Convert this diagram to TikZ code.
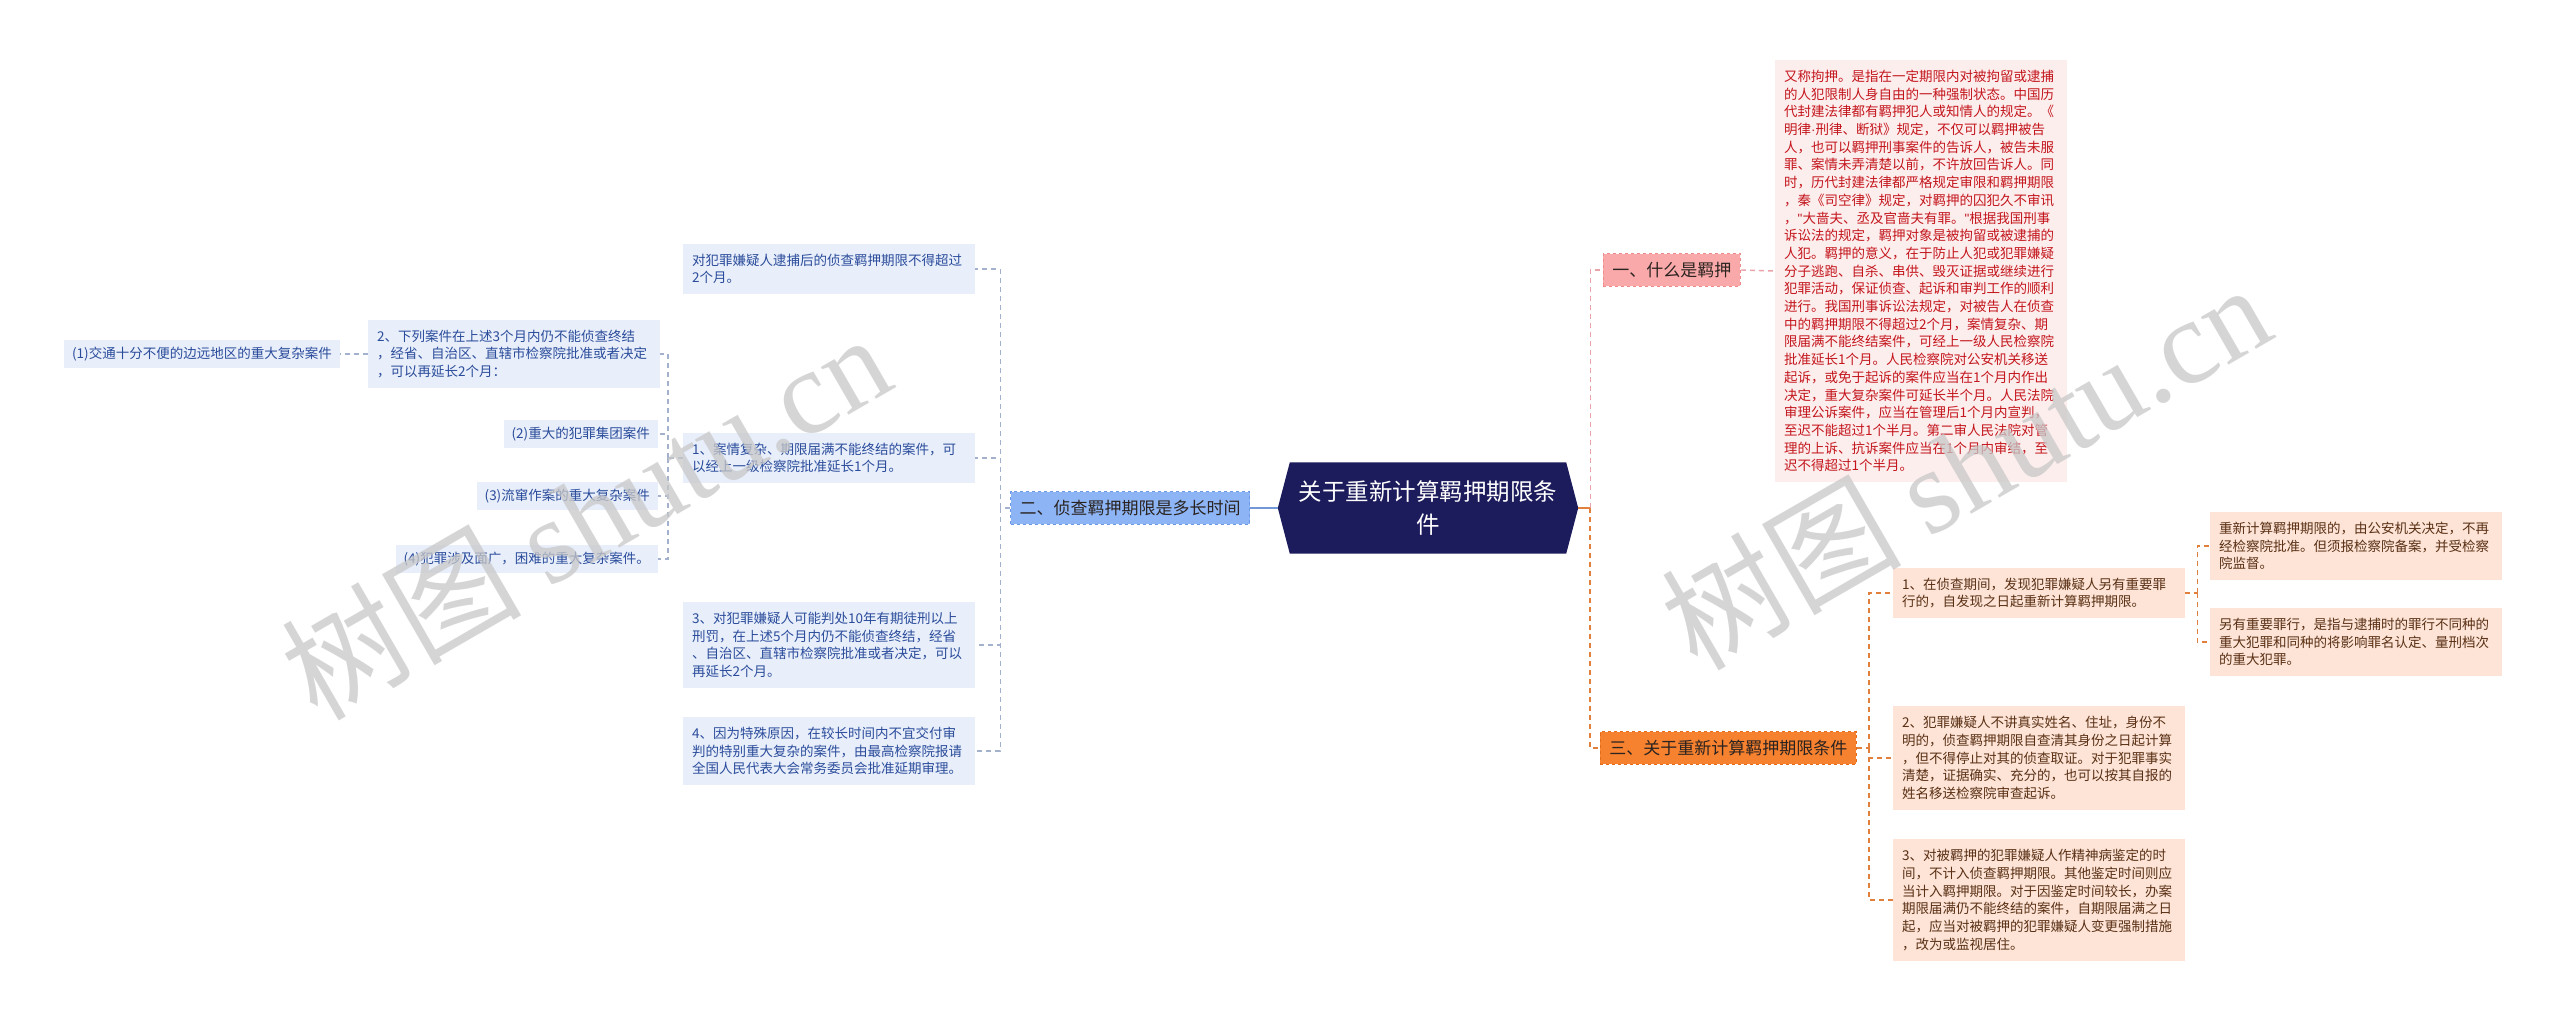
\documentclass[tikz,border=0pt]{standalone}
\usepackage{fontspec}
\setmainfont{Noto Sans CJK SC}
\newfontfamily\wmfont{Liberation Serif}
\newfontfamily\latinsans{Liberation Sans}
\usetikzlibrary{backgrounds}
\definecolor{rootfill}{HTML}{1C1B5C}
\definecolor{bmain}{HTML}{8DB5F6}
\definecolor{bmainborder}{HTML}{6A97E6}
\definecolor{bleaffill}{HTML}{E8EFFB}
\definecolor{bleaftext}{HTML}{2B4C9B}
\definecolor{bline}{HTML}{A3B1CC}
\definecolor{bsolid}{HTML}{7398D8}
\definecolor{pmain}{HTML}{F9A9A9}
\definecolor{pmainborder}{HTML}{F08A8A}
\definecolor{pleaffill}{HTML}{FDEEEE}
\definecolor{pleaftext}{HTML}{C3161C}
\definecolor{pline}{HTML}{EBA3AA}
\definecolor{omain}{HTML}{F6812F}
\definecolor{omainborder}{HTML}{E36A18}
\definecolor{oleaffill}{HTML}{FDE4D6}
\definecolor{oleaftext}{HTML}{5A3015}
\definecolor{oline}{HTML}{E0803C}
\definecolor{maintext}{HTML}{2A2320}
\definecolor{wmgray}{HTML}{C8C8C8}
\newcommand{\sq}{{\latinsans"}}
\newcommand{\mdot}{{\latinsans\textperiodcentered}}
\begin{document}
\begin{tikzpicture}[x=1pt,y=-1pt,
  leafbase/.style={inner xsep=9pt, inner ysep=10pt, text width=274pt, align=left,
    font=\fontsize{13.5}{17.7}\selectfont},
  shortleaf/.style={inner xsep=8pt, inner ysep=7pt, font=\fontsize{13.5}{17.7}\selectfont},
  bleaf/.style={leafbase, fill=bleaffill, text=bleaftext},
  bshort/.style={shortleaf, fill=bleaffill, text=bleaftext},
  pleaf/.style={leafbase, fill=pleaffill, text=pleaftext},
  oleaf/.style={leafbase, fill=oleaffill, text=oleaftext},
  mainbr/.style={inner xsep=9pt, inner ysep=8.5pt, font=\fontsize{17}{20}\selectfont, text=maintext, dashed, line width=0.8pt},
  bcon/.style={draw=bline, dashed, line width=1.2pt, dash pattern=on 5pt off 4pt},
  pcon/.style={draw=pline, dashed, line width=1.4pt, dash pattern=on 5pt off 4pt},
  ocon/.style={draw=oline, dashed, line width=1.6pt, dash pattern=on 5pt off 4pt},
  wm/.style={text=wmgray, opacity=0.75, font=\fontsize{120}{130}\selectfont, rotate=30}
]
\useasboundingbox (0,0) rectangle (2560,1019);

% root
\node[minimum width=300pt, minimum height=91pt, align=center, text=white,
  font=\fontsize{23.5}{33}\selectfont] (root) at (1428,508) {关于重新计算羁押期限条\\件};
\begin{scope}[on background layer]
\fill[white] (0,0) rectangle (2560,1019);
\fill[rootfill] ([xshift=12pt]root.north west) -- (root.west) -- ([xshift=12pt]root.south west)
  -- ([xshift=-12pt]root.south east) -- (root.east) -- ([xshift=-12pt]root.north east) -- cycle;
\end{scope}

% left main branch
\node[mainbr, fill=bmain, draw=bmainborder, anchor=east] (L) at (1250,508) {二、侦查羁押期限是多长时间};

\node[bleaf, anchor=west] (A0) at (683,269) {对犯罪嫌疑人逮捕后的侦查羁押期限不得超过\\2个月。};
\node[bleaf, anchor=west] (A1) at (683,458) {1、案情复杂、期限届满不能终结的案件，可\\以经上一级检察院批准延长1个月。};
\node[bleaf, anchor=west] (A3) at (683,645) {3、对犯罪嫌疑人可能判处10年有期徒刑以上\\刑罚，在上述5个月内仍不能侦查终结，经省\\、自治区、直辖市检察院批准或者决定，可以\\再延长2个月。};
\node[bleaf, anchor=west] (A4) at (683,751) {4、因为特殊原因，在较长时间内不宜交付审\\判的特别重大复杂的案件，由最高检察院报请\\全国人民代表大会常务委员会批准延期审理。};

\node[bleaf, anchor=west] (B2) at (368,354) {2、下列案件在上述3个月内仍不能侦查终结\\，经省、自治区、直辖市检察院批准或者决定\\，可以再延长2个月：};
\node[bshort, anchor=east] (C1) at (340,354) {(1)交通十分不便的边远地区的重大复杂案件};
\node[bshort, anchor=east] (B22) at (658,434) {(2)重大的犯罪集团案件};
\node[bshort, anchor=east] (B23) at (658,496) {(3)流窜作案的重大复杂案件};
\node[bshort, anchor=east] (B24) at (658,559) {(4)犯罪涉及面广，困难的重大复杂案件。};

% right branches
\node[mainbr, fill=pmain, draw=pmainborder, anchor=west] (P) at (1603,270) {一、什么是羁押};
\node[pleaf, anchor=west] (PL) at (1775,271) {又称拘押。是指在一定期限内对被拘留或逮捕\\的人犯限制人身自由的一种强制状态。中国历\\代封建法律都有羁押犯人或知情人的规定。《\\明律\mdot 刑律、断狱》规定，不仅可以羁押被告\\人，也可以羁押刑事案件的告诉人，被告未服\\罪、案情未弄清楚以前，不许放回告诉人。同\\时，历代封建法律都严格规定审限和羁押期限\\，秦《司空律》规定，对羁押的囚犯久不审讯\\，\sq 大啬夫、丞及官啬夫有罪。\sq 根据我国刑事\\诉讼法的规定，羁押对象是被拘留或被逮捕的\\人犯。羁押的意义，在于防止人犯或犯罪嫌疑\\分子逃跑、自杀、串供、毁灭证据或继续进行\\犯罪活动，保证侦查、起诉和审判工作的顺利\\进行。我国刑事诉讼法规定，对被告人在侦查\\中的羁押期限不得超过2个月，案情复杂、期\\限届满不能终结案件，可经上一级人民检察院\\批准延长1个月。人民检察院对公安机关移送\\起诉，或免于起诉的案件应当在1个月内作出\\决定，重大复杂案件可延长半个月。人民法院\\审理公诉案件，应当在管理后1个月内宣判，\\至迟不能超过1个半月。第二审人民法院对管\\理的上诉、抗诉案件应当在1个月内审结，至\\迟不得超过1个半月。};

\node[mainbr, fill=omain, draw=omainborder, anchor=west] (O) at (1600,748) {三、关于重新计算羁押期限条件};
\node[oleaf, anchor=west] (O1) at (1893,593) {1、在侦查期间，发现犯罪嫌疑人另有重要罪\\行的，自发现之日起重新计算羁押期限。};
\node[oleaf, anchor=west] (O2) at (1893,758) {2、犯罪嫌疑人不讲真实姓名、住址，身份不\\明的，侦查羁押期限自查清其身份之日起计算\\，但不得停止对其的侦查取证。对于犯罪事实\\清楚，证据确实、充分的，也可以按其自报的\\姓名移送检察院审查起诉。};
\node[oleaf, anchor=west] (O3) at (1893,900) {3、对被羁押的犯罪嫌疑人作精神病鉴定的时\\间，不计入侦查羁押期限。其他鉴定时间则应\\当计入羁押期限。对于因鉴定时间较长，办案\\期限届满仍不能终结的案件，自期限届满之日\\起，应当对被羁押的犯罪嫌疑人变更强制措施\\，改为或监视居住。};
\node[oleaf, anchor=west] (O1a) at (2210,546) {重新计算羁押期限的，由公安机关决定，不再\\经检察院批准。但须报检察院备案，并受检察\\院监督。};
\node[oleaf, anchor=west] (O1b) at (2210,642) {另有重要罪行，是指与逮捕时的罪行不同种的\\重大犯罪和同种的将影响罪名认定、量刑档次\\的重大犯罪。};

% connectors left
\draw[draw=bsolid, line width=1.5pt] (root.west) -- (L.east);
\draw[bcon] (L.west) -- ++(-10,0) coordinate (lj);
\draw[bcon] (lj) |- (A0.east);
\draw[bcon] (lj) |- (A1.east);
\draw[bcon] (lj) |- (A3.east);
\draw[bcon] (lj) |- (A4.east);
\draw[bcon] (A1.west) -- ++(-15,0) coordinate (aj);
\draw[bcon] (aj) |- (B2.east);
\draw[bcon] (aj) |- (B22.east);
\draw[bcon] (aj) |- (B23.east);
\draw[bcon] (aj) |- (B24.east);
\draw[bcon] (B2.west) -- (C1.east);

% connectors right
\draw[draw=oline, line width=2pt] (root.east) -- ++(12,0) coordinate (rj);
\draw[pcon] (rj) |- (P.west);
\draw[ocon, line width=2.2pt] (rj) |- (O.west);
\draw[pcon] (P.east) -- (PL.west);
\draw[ocon] (O.east) -- ++(12,0) coordinate (oj);
\draw[ocon] (oj) |- (O1.west);
\draw[ocon] (oj) |- (O2.west);
\draw[ocon] (oj) |- (O3.west);
\draw[ocon] (O1.east) -- ++(12,0) coordinate (o1j);
\draw[ocon] (o1j) |- (O1a.west);
\draw[ocon] (o1j) |- (O1b.west);

% watermarks
\node[wm] (wm1) at (585,515) {树图 {\wmfont shutu.cn}};
\node[wm] (wm2) at (1965,465) {树图 {\wmfont shutu.cn}};
\end{tikzpicture}
\end{document}
